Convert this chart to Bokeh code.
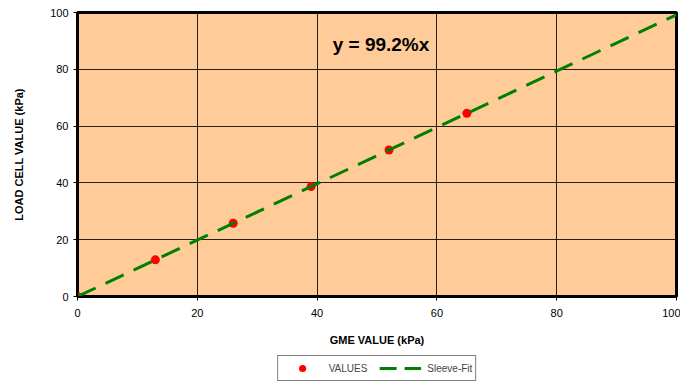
from bokeh.plotting import figure
from bokeh.layouts import column
from bokeh.models import Range1d, Legend, LegendItem, Label, ColumnDataSource
from bokeh.embed import file_html
from bokeh.resources import INLINE

# data
gme_values = [0, 13, 26, 39, 52, 65]
load_cell_values = [0, 12.9, 25.8, 38.7, 51.6, 64.5]
fit_x = [0, 100]
fit_slope = 0.992
fit_y = [v * fit_slope for v in fit_x]
ticks = [0, 20, 40, 60, 80, 100]
equation_text = "y = 99.2%x"
legend_labels = ["VALUES", "Sleeve-Fit"]

FONT = "Liberation Sans"
PT_COLOR = "red"
FIT_COLOR = "#008000"
FIT_DASH = "20 11"

p = figure(width=680, height=352, output_backend="svg", toolbar_location=None,
           x_range=Range1d(0, 100), y_range=Range1d(0, 100),
           min_border_left=77, min_border_right=4, min_border_top=12, min_border_bottom=56)

p.background_fill_color = "#FFCC99"
p.border_fill_color = "white"
p.outline_line_color = "black"
p.outline_line_width = 3

for g in (p.xgrid, p.ygrid):
    g.ticker = ticks
    g.grid_line_color = "black"
    g.grid_line_width = 1
    g.grid_line_alpha = 0.85

for ax in (p.xaxis, p.yaxis):
    ax.ticker = ticks
    ax.major_tick_out = 4
    ax.major_tick_in = 0
    ax.minor_tick_line_color = None
    ax.major_tick_line_color = "black"
    ax.axis_line_color = "black"
    ax.major_label_text_font = FONT
    ax.major_label_text_font_size = "11px"
    ax.major_label_text_color = "black"
    ax.axis_label_text_font = FONT
    ax.axis_label_text_font_size = "11px"
    ax.axis_label_text_font_style = "bold"
    ax.axis_label_text_color = "black"

p.xaxis.axis_label = "GME VALUE (kPa)"
p.yaxis.axis_label = "LOAD CELL VALUE (kPa)"
p.xaxis.major_label_standoff = 8
p.xaxis.axis_label_standoff = 14
p.yaxis.major_label_standoff = 5
p.yaxis.axis_label_standoff = 22

src_pts = ColumnDataSource(dict(x=gme_values, y=load_cell_values))
src_fit = ColumnDataSource(dict(x=fit_x, y=fit_y))

p.scatter("x", "y", source=src_pts, size=9, color=PT_COLOR, line_color=None)
p.line("x", "y", source=src_fit, line_color=FIT_COLOR, line_width=3, line_dash=FIT_DASH)

p.add_layout(Label(x=42.6, y=88.7, text=equation_text, text_font=FONT, text_font_size="19px",
                   text_font_style="bold", text_baseline="middle", text_color="black"))

# legend strip below the chart (hidden copies of the series supply the legend glyphs)
p2 = figure(width=680, height=32, output_backend="svg", toolbar_location=None,
            min_border_left=77, min_border_right=4, min_border_top=0, min_border_bottom=0)
p2.axis.visible = False
p2.grid.visible = False
p2.outline_line_color = None
p2.background_fill_color = "white"
l_pts = p2.scatter("x", "y", source=src_pts, size=9, color=PT_COLOR, line_color=None, visible=False)
l_fit = p2.line("x", "y", source=src_fit, line_color=FIT_COLOR, line_width=3,
                line_dash="17 8", visible=False)

legend = Legend(items=[LegendItem(label=legend_labels[0], renderers=[l_pts]),
                       LegendItem(label=legend_labels[1], renderers=[l_fit])],
                orientation="horizontal", location="center", click_policy="none",
                label_text_font=FONT, label_text_font_size="10px",
                glyph_width=42, glyph_height=18, label_height=12, label_standoff=6,
                spacing=12, padding=3, margin=0,
                border_line_color="black", border_line_width=1,
                background_fill_color="white", background_fill_alpha=1)
p2.add_layout(legend, "center")

layout = column(p, p2, spacing=0)
open("out.html", "w").write(file_html(layout, INLINE))
